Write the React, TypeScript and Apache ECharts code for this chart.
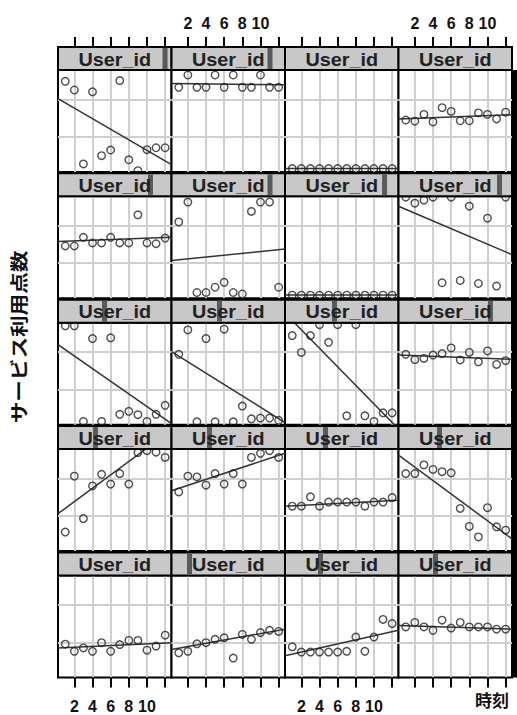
import { useEffect, useRef } from "react";
import * as echarts from "echarts";

// ---- data ----
const xValues = [1, 2, 3, 4, 5, 6, 7, 8, 9, 10, 11, 12];
const xTicks = [2, 4, 6, 8, 10, 12];
const xTickLabels = [2, 4, 6, 8, 10];
const yGridValues = [10, 20];
const stripText = "User_id";
const yTitle = "サービス利用点数";
const xTitle = "時刻";

const row1Values = [
  [24.8, 22.5, 2.8, 22.0, 5.0, 6.5, 25.0, 3.9, 1.0, 6.6, 7.1, 7.1],
  [23.2, 26.5, 23.2, 23.2, 26.5, 23.2, 26.5, 23.2, 23.2, 26.5, 23.2, 23.2],
  [1.55, 1.55, 1.55, 1.55, 1.55, 1.55, 1.55, 1.55, 1.55, 1.55, 1.55, 1.55],
  [14.5, 14.2, 16.0, 14.0, 17.8, 16.8, 14.3, 14.3, 16.4, 16.0, 14.8, 16.6],
];
const row2Values = [
  [14.6, 14.6, 16.9, 15.4, 15.4, 16.9, 15.4, 15.4, 22.9, 15.4, 15.2, 16.7],
  [21.0, 26.3, 2.2, 2.2, 3.6, 4.9, 2.2, 1.8, 23.8, 26.3, 26.3, 3.6],
  [1.5, 1.5, 1.5, 1.5, 1.5, 1.5, 1.5, 1.5, 1.5, 1.5, 1.5, 1.5],
  [27.6, 26.0, 26.8, 27.6, 4.8, 27.6, 5.4, 25.2, 4.6, 22.0, 3.9, 27.6],
];
const row3Values = [
  [27.0, 27.0, 1.5, 23.6, 1.5, 23.8, 3.4, 4.2, 3.3, 1.5, 3.4, 5.8],
  [19.4, 25.9, 1.4, 23.6, 1.4, 26.1, 1.4, 5.6, 2.2, 2.4, 2.4, 1.8],
  [24.4, 19.9, 24.4, 27.3, 22.6, 27.3, 3.0, 27.3, 3.0, 1.5, 3.8, 3.8],
  [19.4, 18.0, 18.3, 19.2, 19.6, 21.1, 17.9, 19.9, 17.4, 20.3, 16.7, 17.7],
];
const row4Values = [
  [5.7, 20.6, 9.3, 18.0, 21.1, 18.5, 21.3, 18.5, 26.9, 27.4, 27.0, 25.6],
  [16.4, 20.6, 20.4, 18.2, 21.3, 18.5, 21.3, 18.5, 25.6, 26.7, 27.4, 25.6],
  [12.6, 12.6, 15.1, 12.6, 13.7, 13.7, 13.7, 13.7, 12.6, 13.7, 13.7, 14.9],
  [21.3, 21.3, 23.6, 22.4, 21.8, 21.5, 12.0, 7.2, 4.4, 12.2, 7.1, 6.2],
];
const row5Values = [
  [9.5, 7.6, 8.5, 7.6, 9.9, 7.6, 9.4, 10.5, 10.5, 7.9, 9.0, 11.9],
  [7.2, 7.6, 9.6, 9.9, 10.8, 11.2, 5.8, 12.1, 10.8, 12.6, 13.2, 12.9],
  [8.8, 7.4, 7.4, 7.4, 7.4, 7.4, 7.6, 11.4, 7.6, 11.4, 16.1, 15.0],
  [14.1, 15.3, 14.1, 13.2, 15.9, 13.8, 15.3, 14.1, 14.1, 14.1, 13.5, 13.5],
];

// fitted line values at the left and right edge of each panel
const row1Fit = [[20.2, 2.6], [24.2, 23.9], [1.55, 1.55], [14.8, 15.9]];
const row2Fit = [[15.8, 16.9], [10.7, 13.8], [1.5, 1.5], [25.2, 12.3]];
const row3Fit = [[22.0, 0.9], [20.1, 1.2], [30.4, -0.5], [19.2, 18.1]];
const row4Fit = [[10.6, 32.9], [16.7, 26.7], [12.6, 14.2], [26.2, 3.9]];
const row5Fit = [[8.5, 9.9], [8.1, 13.5], [6.4, 13.2], [14.5, 13.5]];

// level indicator position in each strip (fraction of the strip width)
const stripLevels = [
  [0.943, 0.868, null, null],
  [0.815, 0.868, 0.877, 0.89],
  [0.41, 0.423, 0.436, 0.81],
  [0.33, 0.335, 0.357, 0.361],
  [null, 0.159, 0.313, 0.326],
];

const allValues = [row1Values, row2Values, row3Values, row4Values, row5Values];
const allFits = [row1Fit, row2Fit, row3Fit, row4Fit, row5Fit];

// ---- layout ----
const PANEL_LEFT = 58;
const PANEL_W = 113.5;
const ROW_TOP = 47;
const ROW_PITCH = 126.35;
const STRIP_H = 23;
const PANEL_H = 102;
const X_MIN = 0.2;
const X_MAX = 12.7;
const Y_MIN = 0.64;
const Y_MAX = 27.83;

export default function App() {
  const ref = useRef<HTMLDivElement>(null);

  useEffect(() => {
    if (!ref.current) return;
    const chart = echarts.init(ref.current, undefined, { renderer: "svg" });

    const grids: any[] = [];
    const xAxes: any[] = [];
    const yAxes: any[] = [];
    const series: any[] = [];
    const graphics: any[] = [];

    for (let r = 0; r < 5; r++) {
      for (let c = 0; c < 4; c++) {
        const idx = r * 4 + c;
        const left = PANEL_LEFT + c * PANEL_W;
        const stripTop = ROW_TOP + r * ROW_PITCH;
        const top = stripTop + STRIP_H;
        grids.push({
          left,
          top,
          width: PANEL_W,
          height: PANEL_H,
          show: true,
          backgroundColor: "#fff",
          borderColor: "#000",
          borderWidth: 2,
          containLabel: false,
        });
        const outer = r === 0 || r === 4;
        const showLabel = (r === 0 && c % 2 === 1) || (r === 4 && c % 2 === 0);
        xAxes.push({
          gridIndex: idx,
          type: "value",
          min: X_MIN,
          max: X_MAX,
          position: r === 0 ? "top" : "bottom",
          offset: r === 0 ? STRIP_H : 0,
          axisLine: { show: false },
          axisTick: {
            show: outer,
            customValues: xTicks,
            length: 10,
            lineStyle: { color: "#000", width: 2 },
          },
          axisLabel: {
            show: showLabel,
            customValues: xTickLabels,
            margin: r === 0 ? 16 : 21,
            fontSize: 16,
            fontWeight: "bold",
            fontFamily: "Liberation Sans, Arial, sans-serif",
            color: "#111",
          },
          splitLine: { show: true, lineStyle: { color: "#cfcfcf", width: 2 } },
        });
        yAxes.push({
          gridIndex: idx,
          type: "value",
          min: Y_MIN,
          max: Y_MAX,
          axisLine: { show: false },
          axisTick: { show: false, customValues: yGridValues },
          axisLabel: { show: false, customValues: yGridValues },
          splitLine: { show: true, lineStyle: { color: "#cfcfcf", width: 2 } },
        });
        const fit = allFits[r][c];
        series.push({
          type: "line",
          xAxisIndex: idx,
          yAxisIndex: idx,
          data: [
            [X_MIN, fit[0]],
            [X_MAX, fit[1]],
          ],
          symbol: "none",
          clip: true,
          silent: true,
          z: 2,
          lineStyle: { color: "#333", width: 1.5 },
        });
        const vals = allValues[r][c];
        series.push({
          type: "scatter",
          xAxisIndex: idx,
          yAxisIndex: idx,
          data: xValues.map((x, i) => [x, vals[i]]),
          symbol: "circle",
          symbolSize: 7.5,
          clip: false,
          silent: true,
          z: 3,
          itemStyle: {
            color: "rgba(255,255,255,0)",
            borderColor: "#222",
            borderWidth: 1.4,
          },
        });

        // strip
        graphics.push({
          type: "rect",
          shape: { x: left, y: stripTop, width: PANEL_W, height: STRIP_H },
          style: { fill: "#c8c8c8", stroke: "#000", lineWidth: 2 },
          z: 10,
        });
        const lvl = stripLevels[r][c];
        if (lvl !== null) {
          graphics.push({
            type: "rect",
            shape: { x: left + lvl * PANEL_W - 2.5, y: stripTop + 1, width: 5, height: STRIP_H - 2 },
            style: { fill: "#5a5a5a" },
            z: 11,
          });
        }
        graphics.push({
          type: "text",
          x: left + PANEL_W / 2,
          y: stripTop + STRIP_H / 2 + 1,
          scaleX: 1.1,
          z: 12,
          style: {
            text: stripText,
            fontSize: 18,
            fontWeight: "bold",
            fontFamily: "Liberation Sans, Arial, sans-serif",
            fill: "#222",
            textAlign: "center",
            textVerticalAlign: "middle",
          },
        });
      }
    }

    // thick right edge
    graphics.push({
      type: "rect",
      shape: { x: 512, y: ROW_TOP + STRIP_H, width: 5, height: 4 * ROW_PITCH + PANEL_H },
      style: { fill: "#000" },
      z: 13,
    });
    graphics.push({
      type: "text",
      x: 18,
      y: 337,
      rotation: Math.PI / 2,
      scaleX: 1.2,
      z: 12,
      style: {
        text: yTitle,
        fontSize: 18,
        fontWeight: "bold",
        fontFamily: "Noto Sans CJK JP, sans-serif",
        fill: "#111",
        textAlign: "center",
        textVerticalAlign: "middle",
      },
    });
    graphics.push({
      type: "text",
      x: 492,
      y: 699,
      z: 12,
      style: {
        text: xTitle,
        fontSize: 17,
        fontWeight: "bold",
        fontFamily: "Noto Sans CJK JP, sans-serif",
        fill: "#111",
        textAlign: "center",
        textVerticalAlign: "middle",
      },
    });

    chart.setOption({
      animation: false,
      backgroundColor: "#fff",
      grid: grids,
      xAxis: xAxes,
      yAxis: yAxes,
      series,
      graphic: graphics,
    });

    return () => chart.dispose();
  }, []);

  return (
    <div
      ref={ref}
      style={{ position: "fixed", left: 0, top: 0, width: 517, height: 715, background: "#fff" }}
    />
  );
}
